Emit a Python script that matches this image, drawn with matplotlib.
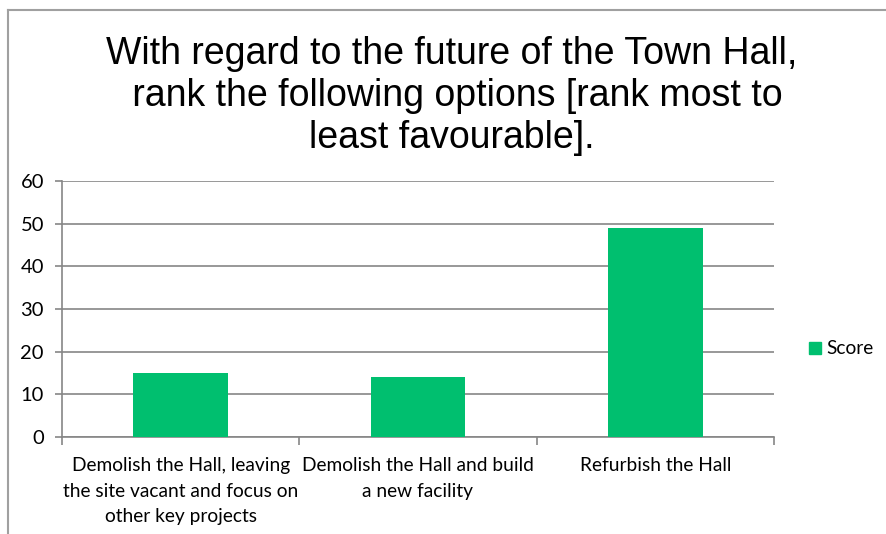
import numpy as np
import matplotlib.pyplot as plt
from matplotlib.lines import Line2D
from matplotlib.patches import Patch

categories = ["Demolish the Hall, leaving\nthe site vacant and focus on\nother key projects",
              "Demolish the Hall and build\na new facility",
              "Refurbish the Hall"]
scores = [15, 14, 49]
title = "With regard to the future of the Town Hall,\n rank the following options [rank most to\nleast favourable]."

W, H = 886, 534
fig = plt.figure(figsize=(W / 100, H / 100), dpi=100)

# plot area in pixels: left 62, right 774, top 181, bottom 437
ax = fig.add_axes([62 / W, 1 - 437 / H, (774 - 62) / W, (437 - 181) / H])

grey = '#868686'
green = '#00BF6F'
label_font = ['Lato', 'DejaVu Sans']
fs = 13.8

x = np.arange(len(scores))
ax.bar(x, scores, width=0.4, color=green, zorder=3)
ax.set_xlim(-0.5, len(scores) - 0.5)
ax.set_ylim(0, 60)
ax.set_yticks(range(0, 61, 10))
ax.set_yticklabels([str(v) for v in range(0, 61, 10)], family=label_font, fontsize=14.5)
ax.yaxis.grid(True, color=grey, linewidth=1.2, zorder=0)

# category labels sit between boundary ticks
ax.set_xticks(np.arange(-0.5, len(scores)))
ax.set_xticklabels([])
ax.tick_params(axis='x', length=6, color=grey, width=1.2)
ax.tick_params(axis='y', length=5, color=grey, width=1.2, pad=8)
for i, lab in enumerate(categories):
    ax.text(i, -0.08, lab, transform=ax.get_xaxis_transform(), ha='center', va='top',
            family=label_font, fontsize=fs, linespacing=1.6)

for side in ['top', 'right']:
    ax.spines[side].set_visible(False)
for side in ['left', 'bottom']:
    ax.spines[side].set_color(grey)
    ax.spines[side].set_linewidth(1.2)

fig.text(452 / W, 1 - 36 / H, title, ha='center', va='top',
         family=['Liberation Sans', 'DejaVu Sans'], fontsize=27, linespacing=1.22)

leg = fig.legend(handles=[Patch(color=green, label='Score')], loc='center left',
                 bbox_to_anchor=(792 / W, 1 - 349 / H), frameon=False,
                 prop={'family': label_font, 'size': fs},
                 handlelength=0.6, handleheight=0.6, handletextpad=0.3)

# chart frame (left and top edges)
fig.add_artist(Line2D([8 / W, 8 / W], [0, 1 - 10 / H], color='#a0a0a0', linewidth=1.5))
fig.add_artist(Line2D([8 / W, 1], [1 - 10 / H, 1 - 10 / H], color='#a0a0a0', linewidth=1.5))

fig.savefig('out.png', dpi=100)
